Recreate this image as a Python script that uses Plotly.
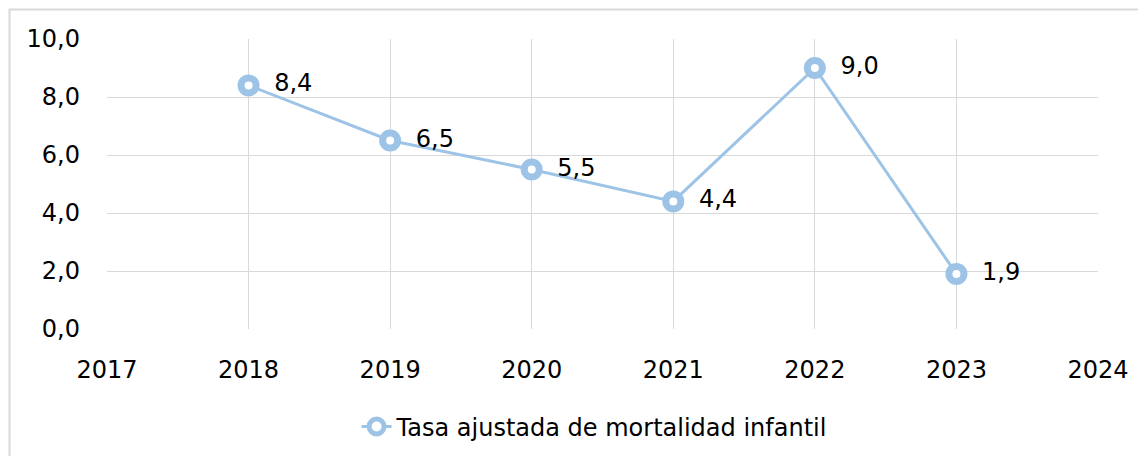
import plotly.graph_objects as go

years = [2018, 2019, 2020, 2021, 2022, 2023]
values = [8.4, 6.5, 5.5, 4.4, 9.0, 1.9]
series_name = "Tasa ajustada de mortalidad infantil"

FONT = "'DejaVu Sans', sans-serif"
BLUE = "#9dc3e6"
GRID = "#d9d9d9"

fig = go.Figure()
fig.add_trace(go.Scatter(
    x=years, y=values, name=series_name,
    mode="lines+markers+text",
    texttemplate="\u00a0\u00a0%{y:.1f}", textposition="middle right",
    textfont=dict(size=24, color="#000000", family=FONT),
    line=dict(color=BLUE, width=3),
    marker=dict(symbol="circle", size=15, color="white",
                line=dict(color=BLUE, width=7)),
    cliponaxis=False,
))

fig.update_layout(
    width=1138, height=448,
    margin=dict(l=99, r=48, t=31, b=127, autoexpand=False),
    paper_bgcolor="white", plot_bgcolor="white",
    font=dict(family=FONT, size=24, color="#000000"),
    separators=",.",
    showlegend=True,
    legend=dict(orientation="h", x=0.492, xanchor="center", y=-0.26, yanchor="top",
                font=dict(size=24, family=FONT, color="#000000")),
    xaxis=dict(range=[2017, 2024], tickmode="linear", tick0=2017, dtick=1,
               showgrid=True, gridcolor=GRID, gridwidth=1.3, zeroline=False,
               showline=False, ticks="", tickfont=dict(size=24), ticklabelstandoff=24,
               automargin=False),
    yaxis=dict(range=[0, 10], tickmode="linear", tick0=0, dtick=2, tickformat=".1f",
               showgrid=True, gridcolor=GRID, gridwidth=1.3, zeroline=False,
               showline=False, ticks="", tickfont=dict(size=24), ticklabelstandoff=26,
               automargin=False),
    shapes=[dict(type="rect", xref="paper", yref="paper",
                 x0=(9.5 - 107) / 991, x1=(1400 - 107) / 991,
                 y0=-(700 - 329) / 290, y1=1 + (39 - 9.5) / 290,
                 line=dict(color="#d9d9d9", width=2), layer="below")],
)

fig.write_html("out.html")
